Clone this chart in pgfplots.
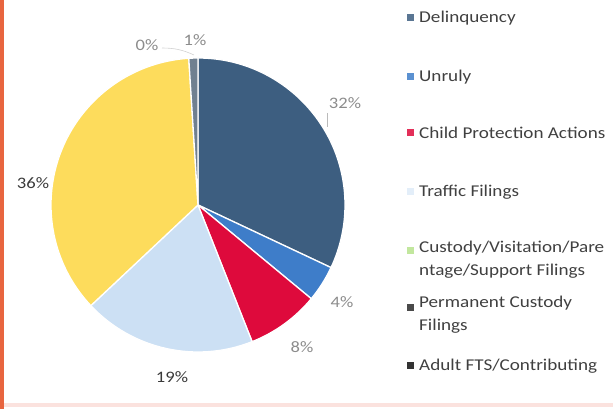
\documentclass[border=0pt]{standalone}
\usepackage{pgfplots}
\pgfplotsset{compat=1.18}
\usepackage{fontspec}
\setmainfont{Carlito}[FakeStretch=1.16]
\definecolor{cDel}{HTML}{3D5E80}
\definecolor{cUnr}{HTML}{3E7DC9}
\definecolor{cCP}{HTML}{DE0A3C}
\definecolor{cTra}{HTML}{CCE0F4}
\definecolor{cCus}{HTML}{FDDC5C}
\definecolor{cPer}{HTML}{4A4A4A}
\definecolor{cAdu}{HTML}{708090}
\definecolor{lblgray}{HTML}{8C8C8C}
\definecolor{lbldark}{HTML}{3A3A3A}
\definecolor{txt}{HTML}{404040}
\definecolor{bord}{HTML}{E8653F}
\definecolor{bpink}{HTML}{FBE2DE}
% percentages of the slices, clockwise from 12 o'clock
\def\vA{32}\def\vB{4}\def\vC{8}\def\vD{19}\def\vE{36}\def\vF{0}\def\vG{1}
\pgfmathsetmacro\aA{0}
\pgfmathsetmacro\aB{\aA+3.6*\vA}
\pgfmathsetmacro\aC{\aB+3.6*\vB}
\pgfmathsetmacro\aD{\aC+3.6*\vC}
\pgfmathsetmacro\aE{\aD+3.6*\vD}
\pgfmathsetmacro\aF{\aE+3.6*\vE}
\pgfmathsetmacro\aG{\aF+3.6*\vF}
\pgfmathsetmacro\aH{\aG+3.6*\vG}
\newcommand\slice[3]{%
  \fill[#3,draw=white,line width=1.3pt] (axis cs:198,204) -- ++({90-#1}:147pt)
    arc[start angle={90-#1}, end angle={90-#2}, radius=147pt] -- cycle;}
\tikzset{lbl/.style={font=\fontsize{16}{18}\selectfont},
  leg/.style={txt,anchor=west,inner sep=0pt,font=\fontsize{16.5}{23}\selectfont},
  leg2/.style={txt,anchor=north west,inner sep=0pt,align=left,font=\fontsize{16.5}{23}\selectfont}}
\begin{document}
\begin{tikzpicture}
\begin{axis}[x=1pt,y=1pt,xmin=0,xmax=613,ymin=0,ymax=409,
  hide axis, clip=false, scale only axis]
\coordinate (LL) at (axis cs:0,0);
\coordinate (UR) at (axis cs:613,409);
\fill[bord] (axis cs:0,0) rectangle (axis cs:3.5,409);
\fill[bpink] (axis cs:3.5,2) rectangle (axis cs:613,6);
\slice{\aA}{\aB}{cDel}
\slice{\aB}{\aC}{cUnr}
\slice{\aC}{\aD}{cCP}
\slice{\aD}{\aE}{cTra}
\slice{\aE}{\aF}{cCus}
\slice{\aG}{\aH}{cAdu}
% data labels
\node[lbl,lblgray] at (axis cs:345,306) {32\%};
\node[lbl,lblgray] at (axis cs:342,107) {4\%};
\node[lbl,lblgray] at (axis cs:302,62) {8\%};
\node[lbl,lbldark] at (axis cs:172,32) {19\%};
\node[lbl,lbldark] at (axis cs:33,226) {36\%};
\node[lbl,lblgray] at (axis cs:147,364) {0\%};
\node[lbl,lblgray] at (axis cs:195,369) {1\%};
\draw[lblgray!60,line width=0.6pt] (axis cs:327,296) -- (axis cs:327,282);
\draw[lblgray!40,line width=0.6pt] (axis cs:162,361) to[bend left=12] (axis cs:194,354);
% legend
\fill[cDel!85] (axis cs:406.5,387.5) rectangle ++(7pt,7pt);
\node[leg] at (axis cs:419,391) {Delinquency};
\fill[cUnr!85] (axis cs:406.5,328.5) rectangle ++(7pt,7pt);
\node[leg] at (axis cs:419,332) {Unruly};
\fill[cCP!85] (axis cs:406.5,272.5) rectangle ++(7pt,7pt);
\node[leg] at (axis cs:419,276) {Child Protection Actions};
\fill[cTra!55] (axis cs:406.5,213.5) rectangle ++(7pt,7pt);
\node[leg] at (axis cs:419,217) {Traffic Filings};
\fill[yellow!40!green!40] (axis cs:406.5,154.5) rectangle ++(7pt,7pt);
\node[leg2] at (axis cs:419,168) {Custody/Visitation/Pare\\ntage/Support Filings};
\fill[cPer] (axis cs:406.5,97.5) rectangle ++(7pt,7pt);
\node[leg2] at (axis cs:419,113) {Permanent Custody\\Filings};
\fill[black!80] (axis cs:406.5,39.5) rectangle ++(7pt,7pt);
\node[leg] at (axis cs:419,43) {Adult FTS/Contributing};
\end{axis}
\pgfresetboundingbox
\path[use as bounding box] (LL) rectangle (UR);
\end{tikzpicture}
\end{document}
